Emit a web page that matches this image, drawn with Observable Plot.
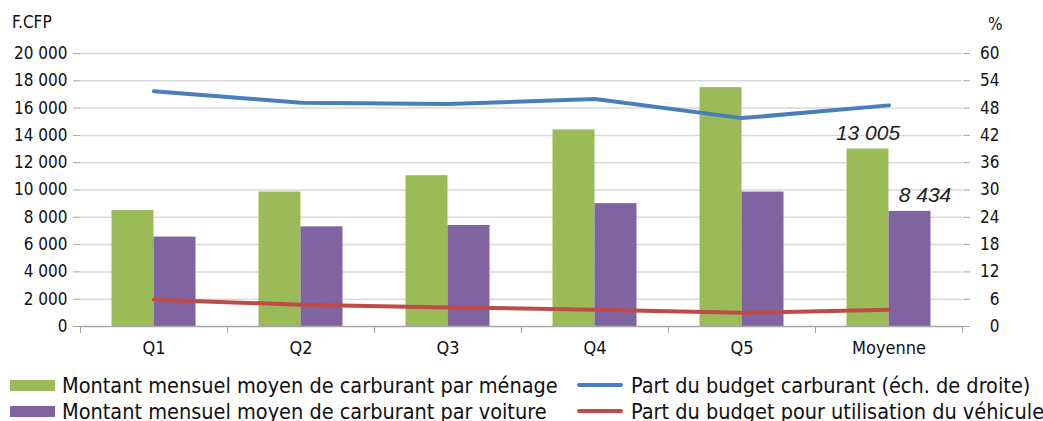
<!DOCTYPE html>
<html><head><meta charset="utf-8">
<script src="https://cdn.jsdelivr.net/npm/d3@7"></script>
<script src="https://cdn.jsdelivr.net/npm/@observablehq/plot@0.6"></script>
<style>
html,body{margin:0;padding:0;background:#fff;}
#wrap{position:relative;width:1043px;height:421px;overflow:hidden;font-family:"DejaVu Sans Condensed","DejaVu Sans",sans-serif;}
#chart svg{display:block;}
.row{position:absolute;display:flex;align-items:center;height:26px;white-space:nowrap;font-size:21.5px;color:#111;}
.sw{display:inline-block;width:45px;height:11px;margin-right:7px;flex:none;}
.ln{display:inline-block;width:46px;height:4px;border-radius:2px;margin-right:8px;flex:none;}
.unit{position:absolute;font-size:17px;color:#111;line-height:1;white-space:nowrap;}
</style></head>
<body><div id="wrap"><div id="chart"></div><div id="legend"></div>
<div class="unit" id="uLeft" style="left:12px;top:14px;"></div>
<div class="unit" id="uRight" style="left:988px;top:16px;"></div>
</div>
<script>
const categories = ["Q1", "Q2", "Q3", "Q4", "Q5", "Moyenne"];
const parMenage = [8500, 9850, 11050, 14400, 17500, 13005];
const parVoiture = [6550, 7300, 7400, 9000, 9850, 8434];
const partCarburant = [51.7, 49.2, 48.9, 50.0, 45.8, 48.6];
const partVehicule = [5.9, 4.8, 4.2, 3.7, 3.0, 3.7];
const leftTicks = d3.range(0, 20001, 2000);
const rightTicks = d3.range(0, 61, 6);
const leftUnit = "F.CFP";
const rightUnit = "%";
const seriesNames = [
  "Montant mensuel moyen de carburant par ménage",
  "Montant mensuel moyen de carburant par voiture",
  "Part du budget carburant (éch. de droite)",
  "Part du budget pour utilisation du véhicule"
];
const colors = ["#9bbb59", "#8064a2", "#4a7ebb", "#be4b48"];
const labelledCategory = "Moyenne";

const leftMax = 20000, rightMax = 60, k = leftMax / rightMax;
const fmt = v => d3.format(",")(v).replace(/,/g, " ");
const rows = categories.map((c, i) => ({
  cat: c, menage: parMenage[i], voiture: parVoiture[i],
  carb: partCarburant[i] * k, veh: partVehicule[i] * k
}));
const labelled = rows.filter(d => d.cat === labelledCategory);
const axisColor = "#a6a6a6";

const chart = Plot.plot({
  width: 1043, height: 362,
  marginLeft: 80, marginRight: 81, marginTop: 53, marginBottom: 36,
  style: {fontFamily: '"DejaVu Sans Condensed","DejaVu Sans",sans-serif', fontSize: "17px", color: "#111", background: "#fff"},
  x: {type: "band", domain: categories, padding: 0, label: null},
  y: {domain: [0, leftMax], label: null},
  marks: [
    Plot.gridY(leftTicks.slice(1), {stroke: "#d9d9d9", strokeOpacity: 1, strokeWidth: 1.5}),
    Plot.barY(rows, {x: "cat", y: "menage", fill: colors[0], insetLeft: 31.5, insetRight: 73.5}),
    Plot.barY(rows, {x: "cat", y: "voiture", fill: colors[1], insetLeft: 73.5, insetRight: 31.5}),
    Plot.ruleY([0], {stroke: axisColor, strokeWidth: 1.5}),
    Plot.line(rows, {x: "cat", y: "carb", stroke: colors[2], strokeWidth: 4}),
    Plot.line(rows, {x: "cat", y: "veh", stroke: colors[3], strokeWidth: 4}),
    Plot.text(labelled, {x: "cat", y: "menage", text: d => fmt(d.menage), dx: -21, dy: -16,
      fontFamily: '"Liberation Sans",sans-serif', fontStyle: "italic", fontSize: 21, fill: "#222"}),
    Plot.text(labelled, {x: "cat", y: "voiture", text: d => fmt(d.voiture), dx: 36, dy: -16,
      fontFamily: '"Liberation Sans",sans-serif', fontStyle: "italic", fontSize: 21, fill: "#222"}),
    Plot.axisY(leftTicks, {anchor: "left", tickFormat: fmt, tickSize: 7, tickPadding: 6, line: true,
      stroke: axisColor, label: null, fontSize: 17}),
    Plot.axisY(rightTicks.map(v => v * k), {anchor: "right", tickFormat: d => String(Math.round(d / k)),
      tickSize: 7, tickPadding: 30, textAnchor: "end", line: true, stroke: axisColor,
      label: null, fontSize: 17}),
    Plot.axisX(categories, {tickSize: 0, tickPadding: 15, fontSize: 18, label: null}),
    Plot.axisX(categories, {tickSize: 7, tickFormat: () => "", dx: -73.5, stroke: axisColor, label: null}),
    Plot.axisX([categories[categories.length - 1]], {tickSize: 7, tickFormat: () => "", dx: 73.5, stroke: axisColor, label: null})
  ]
});
document.getElementById("chart").appendChild(chart);
document.getElementById("uLeft").textContent = leftUnit;
document.getElementById("uRight").textContent = rightUnit;

const legend = document.getElementById("legend");
const items = [
  {left: 10, top: 372, type: "sw", i: 0},
  {left: 10, top: 398, type: "sw", i: 1},
  {left: 577, top: 372, type: "ln", i: 2},
  {left: 577, top: 398, type: "ln", i: 3}
];
for (const it of items) {
  const row = document.createElement("div");
  row.className = "row";
  row.style.left = it.left + "px";
  row.style.top = it.top + "px";
  const s = document.createElement("span");
  s.className = it.type;
  s.style.background = colors[it.i];
  row.appendChild(s);
  const t = document.createElement("span");
  t.textContent = seriesNames[it.i];
  row.appendChild(t);
  legend.appendChild(row);
}
</script>
</body></html>
